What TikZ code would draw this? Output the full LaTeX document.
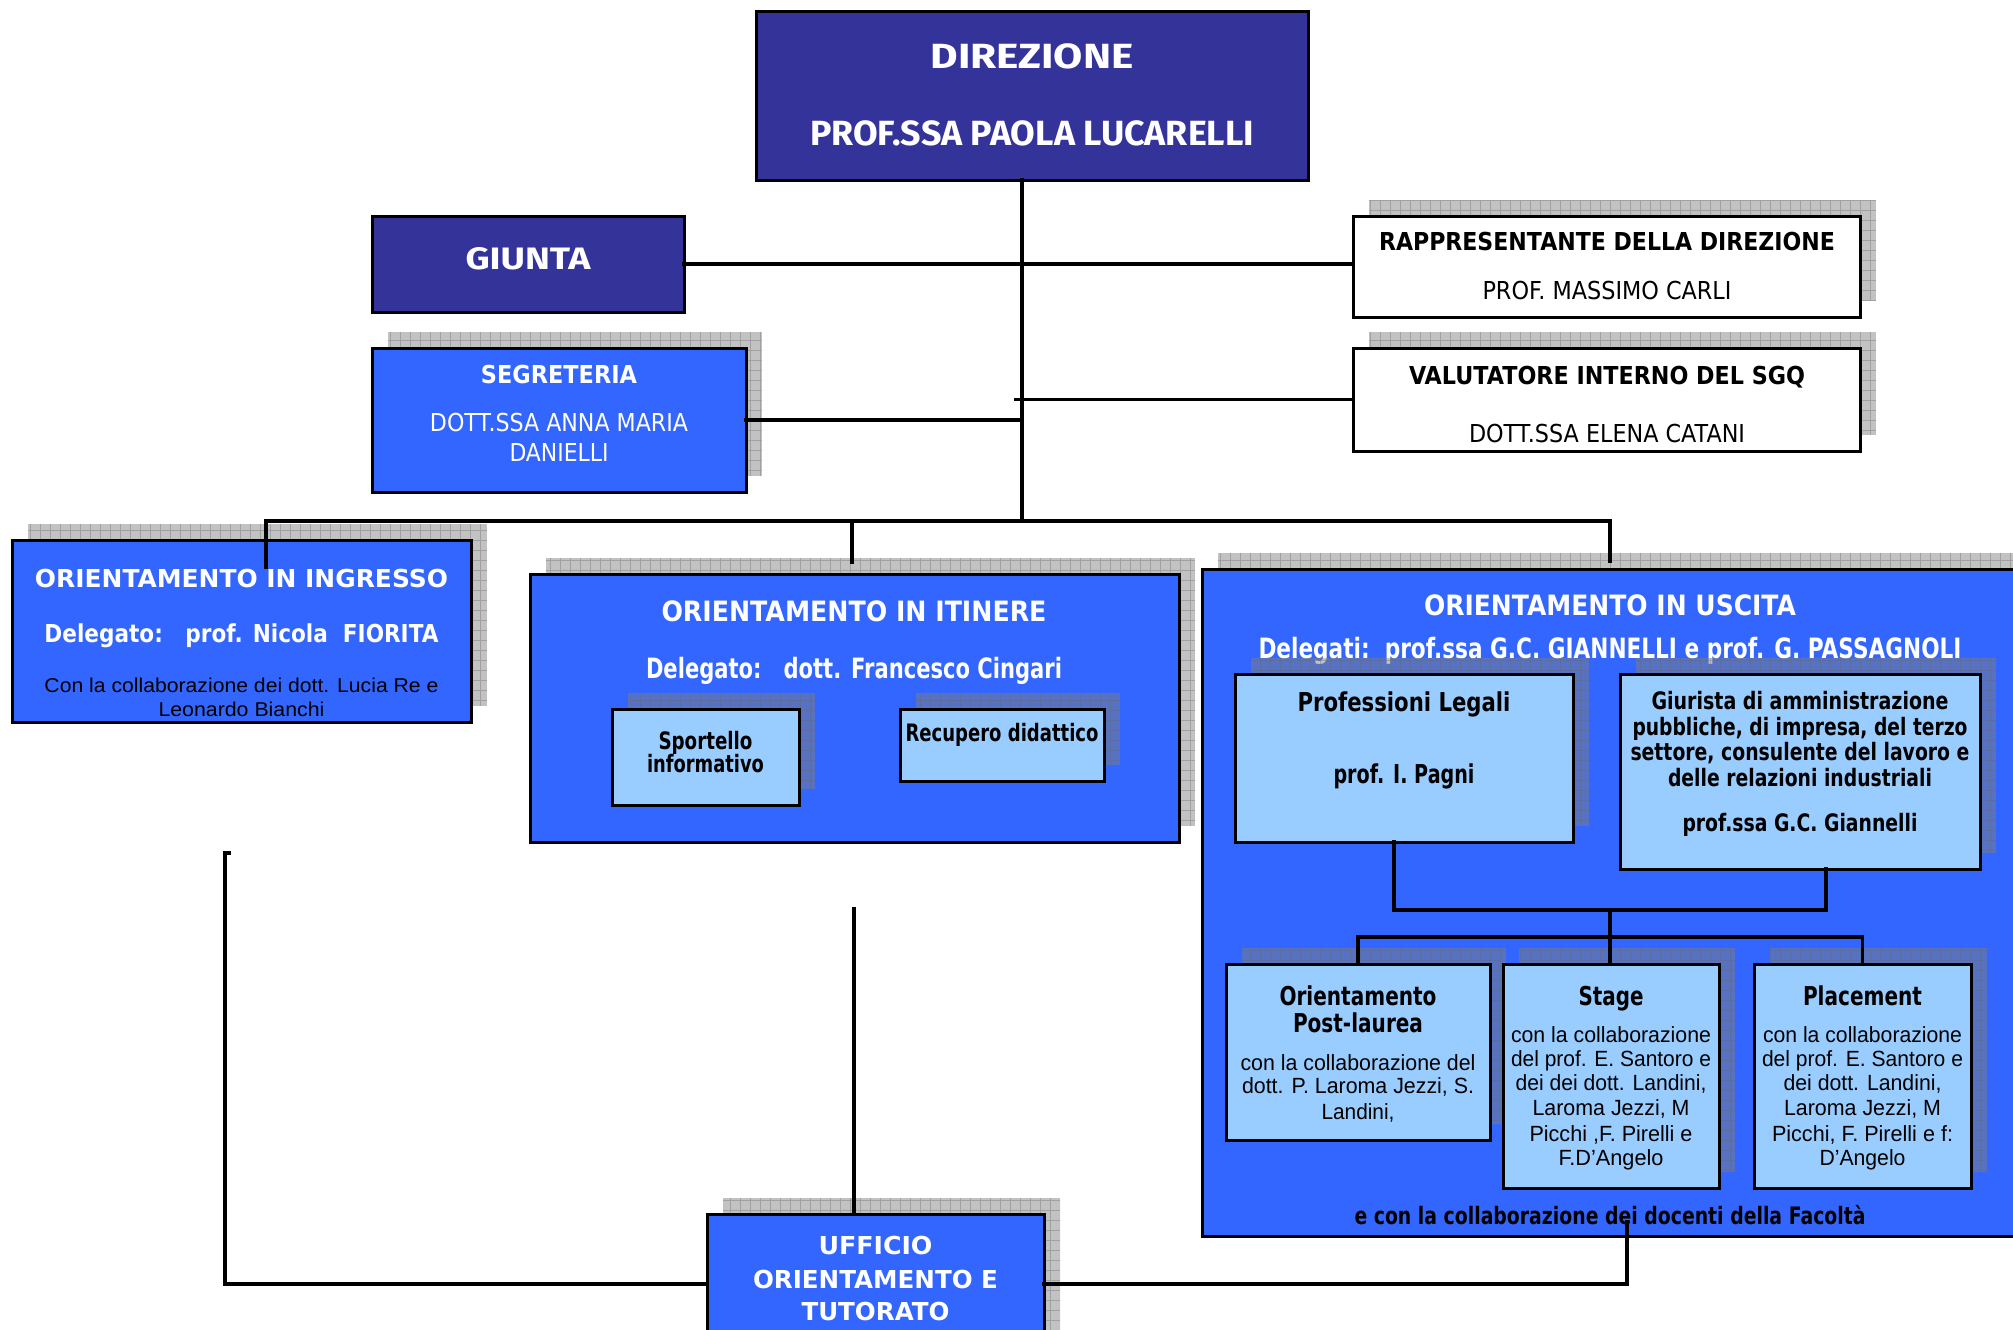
\documentclass[tikz,border=0pt]{standalone}
\usepackage{fontspec}
\usepackage{graphicx}
\newfontfamily\tah{DejaVu Sans}
\newfontfamily\ari{Liberation Sans}
\newfontfamily\hum{Fira Sans}
\definecolor{dkblue}{HTML}{333399}
\definecolor{mdblue}{HTML}{3366FF}
\definecolor{ltblue}{HTML}{99CCFF}
\newcounter{tlc}
\newcommand\tline[5]{\stepcounter{tlc}\node[#1,anchor=base,inner sep=0pt,outer sep=0pt] (txt\arabic{tlc}) at (#2,#3) {\resizebox{#4pt}{\height}{#5}};}
\newcommand\myshadow[4]{\begin{scope}\clip (#1+16,#2-16) rectangle (#3+16,#4-16);\fill[shfill] (#1+16,#2-16) rectangle (#3+16,#4-16);\draw[shgrid] (#1+16,#2-16) grid (#3+16,#4-16);\end{scope}}
\newcommand\boxn[6]{\node[#1, anchor=north west, inner sep=0pt, outer sep=0pt, minimum width={(#5-#3)*1pt}, minimum height={(#6-#4)*1pt}] (#2) at (#3,#4) {};}
\newcommand\boxs[6]{\myshadow{#3}{#4}{#5}{#6}\boxn{#1}{#2}{#3}{#4}{#5}{#6}}
\tikzset{
 shfill/.style={fill=black!50, fill opacity=0.48},
 shgrid/.style={draw=black!60, draw opacity=0.35, line width=0.8pt, step=10pt},
 bxs/.style={draw=black, line width=3pt},
 dkfill/.style={bxs, fill=dkblue},
 mdfill/.style={bxs, fill=mdblue},
 ltfill/.style={bxs, fill=ltblue},
 whfill/.style={bxs, fill=white},
 conn/.style={draw=black, line width=3.5pt, line cap=rect, line join=miter},
 hu/.style={text=white, font=\hum\bfseries\fontsize{35}{40}\selectfont},
 hug/.style={text=white, font=\hum\bfseries\fontsize{31}{36}\selectfont},
 wb/.style={text=white, font=\tah\bfseries\fontsize{24.7}{30}\selectfont},
 kb/.style={text=black, font=\tah\bfseries\fontsize{24.7}{30}\selectfont},
 wr/.style={text=white, font=\tah\fontsize{24.7}{30}\selectfont},
 kr/.style={text=black, font=\tah\fontsize{24.7}{30}\selectfont},
 wbc/.style={text=white, font=\tah\bfseries\fontsize{28}{30}\selectfont},
 kbc/.style={text=black, font=\tah\bfseries\fontsize{26}{30}\selectfont},
 kbs/.style={text=black, font=\tah\bfseries\fontsize{24}{30}\selectfont},
 arl/.style={text=black, font=\ari\fontsize{20}{24}\selectfont},
 arc/.style={text=black, font=\ari\fontsize{22}{24}\selectfont},
}
\begin{document}
\begin{tikzpicture}[x=1pt,y=-1pt]
\useasboundingbox (0,0) rectangle (2013,1330);
\fill[white] (0,0) rectangle (2013,1330);
% DIREZIONE
\boxn{dkfill}{dir}{756}{12}{1308}{180}
\tline{hu}{1032}{69}{203}{DIREZIONE}
\tline{hu}{1032}{145}{444}{PROF.SSA PAOLA LUCARELLI}
% GIUNTA
\boxn{dkfill}{giu}{372}{216}{684}{312}
\tline{hug}{528}{269}{125}{GIUNTA}
% SEGRETERIA
\boxs{mdfill}{seg}{372}{348}{746}{492}
\tline{wb}{559}{383}{156}{SEGRETERIA}
\tline{wr}{559}{431}{258}{DOTT.SSA ANNA MARIA}
\tline{wr}{559}{461}{99}{DANIELLI}
% RAPPRESENTANTE
\boxs{whfill}{rap}{1353}{216}{1860}{317}
\tline{kb}{1607}{250}{456}{RAPPRESENTANTE DELLA DIREZIONE}
\tline{kr}{1607}{299}{249}{PROF. MASSIMO CARLI}
% VALUTATORE
\boxs{whfill}{val}{1353}{348}{1860}{451}
\tline{kb}{1607}{384}{396}{VALUTATORE INTERNO DEL SGQ}
\tline{kr}{1607}{442}{276}{DOTT.SSA ELENA CATANI}
% INGRESSO
\boxs{mdfill}{ing}{12}{540}{471}{722}
\tline{wb}{241.5}{587}{413}{ORIENTAMENTO IN INGRESSO}
\tline{wb}{241.5}{642}{394}{Delegato:\ \ \ prof. Nicola\ \ FIORITA}
\tline{arl}{241.5}{692}{394}{Con la collaborazione dei dott. Lucia Re e}
\tline{arl}{241.5}{716}{166}{Leonardo Bianchi}
% ITINERE
\boxs{mdfill}{iti}{530}{574}{1179}{842}
\tline{wbc}{854}{621}{385}{ORIENTAMENTO IN ITINERE}
\tline{wbc}{854}{678}{416}{Delegato:\ \ \ dott. Francesco Cingari}
\boxs{ltfill}{spo}{612}{709}{799}{805}
\tline{kbs}{705.5}{749}{94}{Sportello}
\tline{kbs}{705.5}{772}{117}{informativo}
\boxs{ltfill}{rec}{900}{709}{1104}{781}
\tline{kbs}{1002}{741}{193}{Recupero didattico}
% USCITA
\boxs{mdfill}{usc}{1202}{569}{2040}{1236}
\tline{wbc}{1610}{615}{372}{ORIENTAMENTO IN USCITA}
\tline{wbc}{1610}{658}{703}{Delegati:\ \ prof.ssa G.C. GIANNELLI e prof. G. PASSAGNOLI}
\tline{kbs}{1610}{1224}{511}{e con la collaborazione dei docenti della Facoltà}
\boxs{ltfill}{pl}{1235}{674}{1573}{842}
\tline{kbc}{1404}{711}{213}{Professioni Legali}
\tline{kbc}{1404}{783}{141}{prof. I. Pagni}
\boxs{ltfill}{gi}{1620}{674}{1980}{869}
\tline{kbs}{1800}{709}{297}{Giurista di amministrazione}
\tline{kbs}{1800}{735}{335}{pubbliche, di impresa, del terzo}
\tline{kbs}{1800}{760}{339}{settore, consulente del lavoro e}
\tline{kbs}{1800}{786}{264}{delle relazioni industriali}
\tline{kbs}{1800}{831}{235}{prof.ssa G.C. Giannelli}
\boxs{ltfill}{pol}{1226}{964}{1490}{1140}
\tline{kbc}{1358}{1005}{157}{Orientamento}
\tline{kbc}{1358}{1032}{130}{Post-laurea}
\tline{arc}{1358}{1070}{235}{con la collaborazione del}
\tline{arc}{1358}{1093}{232}{dott. P. Laroma Jezzi, S.}
\tline{arc}{1358}{1119}{73}{Landini,}
\boxs{ltfill}{stg}{1503}{964}{1719}{1188}
\tline{kbc}{1611}{1005}{65}{Stage}
\tline{arc}{1611}{1042}{200}{con la collaborazione}
\tline{arc}{1611}{1066}{200}{del prof. E. Santoro e}
\tline{arc}{1611}{1090}{191}{dei dei dott. Landini,}
\tline{arc}{1611}{1115}{157}{Laroma Jezzi, M}
\tline{arc}{1611}{1141}{163}{Picchi ,F. Pirelli e}
\tline{arc}{1611}{1165}{105}{F.D’Angelo}
\boxs{ltfill}{plc}{1754}{964}{1971}{1188}
\tline{kbc}{1862.5}{1005}{119}{Placement}
\tline{arc}{1862.5}{1042}{199}{con la collaborazione}
\tline{arc}{1862.5}{1066}{201}{del prof. E. Santoro e}
\tline{arc}{1862.5}{1090}{158}{dei dott. Landini,}
\tline{arc}{1862.5}{1115}{157}{Laroma Jezzi, M}
\tline{arc}{1862.5}{1141}{181}{Picchi, F. Pirelli e f:}
\tline{arc}{1862.5}{1165}{86}{D’Angelo}
% UFFICIO
\boxs{mdfill}{uff}{707}{1214}{1044}{1354}
\tline{wb}{875.5}{1254}{114}{UFFICIO}
\tline{wb}{875.5}{1288}{245}{ORIENTAMENTO E}
\tline{wb}{875.5}{1320}{148}{TUTORATO}
% connectors
\coordinate (j1) at (1022,521);
\coordinate (bl) at (266,521);
\coordinate (bm) at (852,521);
\coordinate (br) at (1610,521);
\draw[conn] (dir.south -| j1) -- (j1);
\draw[conn] (giu.east) -- (giu.east -| rap.west);
\draw[conn] (seg.east) -- (seg.east -| j1);
\draw[conn] (val.west) -- ([xshift=-6pt]val.west -| j1);
\draw[conn] (bl) -- (br);
\draw[conn] (bl) -- ++(0,46);
\draw[conn] (bm) -- ++(0,41);
\draw[conn] (br) -- ++(0,40);
\coordinate (k1) at (1394,910);
\coordinate (k2) at (1826,910);
\coordinate (k3) at (1610,910);
\coordinate (k5) at (1358,937);
\draw[conn] (pl.south -| k1) -- (k1) -- (k2) -- (gi.south -| k2);
\draw[conn] (k3) -- (k3 |- stg.north);
\draw[conn] (pol.north) -- (pol.north |- k5) -- (plc.north |- k5) -- (plc.north);
\coordinate (u1) at (854,909);
\draw[conn] (u1) -- (u1 |- uff.north);
\coordinate (l1) at (225,853);
\draw[conn] ([xshift=4pt]l1) -- (l1) -- (l1 |- uff.west) -- (uff.west);
\coordinate (r1) at (1627,1222);
\draw[conn] (uff.east) -- (uff.east -| r1) -- (r1);
\end{tikzpicture}
\end{document}
